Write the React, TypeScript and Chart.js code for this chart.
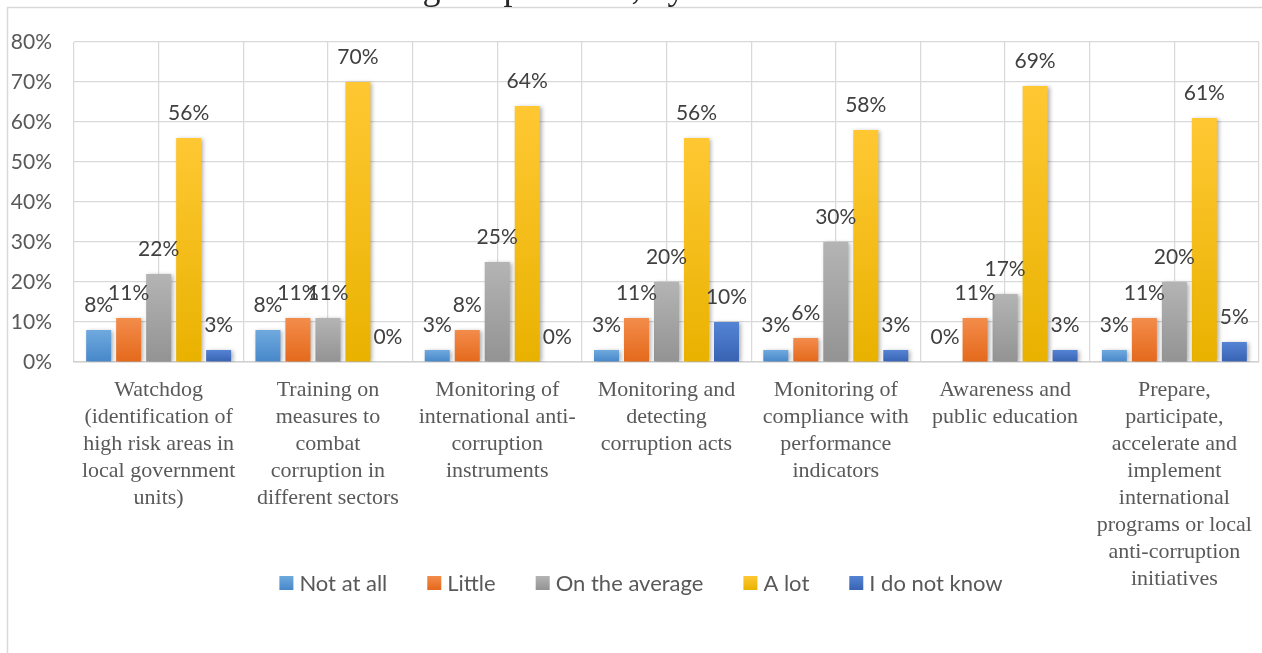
import React, { useEffect, useRef } from "react";
import { Chart, registerables } from "chart.js";

Chart.register(...registerables);

// Activity categories (pre-wrapped into lines)
const categories: string[][] = [
  ["Watchdog", "(identification of", "high risk areas in", "local government", "units)"],
  ["Training on", "measures to", "combat", "corruption in", "different sectors"],
  ["Monitoring of", "international anti-", "corruption", "instruments"],
  ["Monitoring and", "detecting", "corruption acts"],
  ["Monitoring of", "compliance with", "performance", "indicators"],
  ["Awareness and", "public education"],
  [
    "Prepare,",
    "participate,",
    "accelerate and",
    "implement",
    "international",
    "programs or local",
    "anti-corruption",
    "initiatives",
  ],
];

// Share of respondents (%) per answer
const notAtAll = [8, 8, 3, 3, 3, 0, 3];
const little = [11, 11, 8, 11, 6, 11, 11];
const onTheAverage = [22, 11, 25, 20, 30, 17, 20];
const aLot = [56, 70, 64, 56, 58, 69, 61];
const doNotKnow = [3, 0, 0, 10, 3, 3, 5];

const seriesNames = ["Not at all", "Little", "On the average", "A lot", "I do not know"];

const yTicks = [0, 10, 20, 30, 40, 50, 60, 70, 80];

const titleText = "good practices, by local LGU";

// [solid, gradient top, gradient bottom]
const palette: [string, string, string][] = [
  ["#5B9BD5", "#6FA9DE", "#4787C9"],
  ["#ED7D31", "#F38C4B", "#E4691B"],
  ["#A5A5A5", "#B4B4B4", "#939393"],
  ["#FFC000", "#FFC833", "#E9B200"],
  ["#4472C4", "#5584D5", "#3862B2"],
];

const sansFont = 'Lato, "Open Sans", sans-serif';

const barFill = (idx: number) => (ctx: any) => {
  const [solid, top, bottom] = palette[idx];
  const chart = ctx.chart;
  const y = chart.scales && chart.scales.y;
  if (ctx.type !== "data" || !y || !ctx.parsed) return solid;
  const y0 = y.getPixelForValue(0);
  const y1 = y.getPixelForValue(ctx.parsed.y);
  if (!isFinite(y0) || !isFinite(y1) || y0 - y1 < 1) return solid;
  const g = chart.ctx.createLinearGradient(0, y1, 0, y0);
  g.addColorStop(0, top);
  g.addColorStop(1, bottom);
  return g;
};

const barShadow = {
  id: "barShadow",
  beforeDatasetDraw(chart: any) {
    const c = chart.ctx;
    c.save();
    c.shadowColor = "rgba(0,0,0,0.3)";
    c.shadowBlur = 4;
    c.shadowOffsetX = 2;
    c.shadowOffsetY = 1;
  },
  afterDatasetDraw(chart: any) {
    chart.ctx.restore();
  },
};

const valueLabels = {
  id: "valueLabels",
  afterDatasetsDraw(chart: any) {
    const c = chart.ctx;
    c.save();
    c.font = `21px ${sansFont}`;
    c.fillStyle = "#404040";
    c.textAlign = "center";
    c.textBaseline = "middle";
    chart.data.datasets.forEach((ds: any, di: number) => {
      const meta = chart.getDatasetMeta(di);
      meta.data.forEach((bar: any, i: number) => {
        c.fillText(`${ds.data[i]}%`, bar.x, bar.y - 25);
      });
    });
    c.restore();
  },
};

// Legend row under the category labels, centred on the canvas
const bottomLegend = {
  id: "bottomLegend",
  afterDraw(chart: any) {
    const c = chart.ctx;
    c.save();
    c.font = `22px ${sansFont}`;
    c.textBaseline = "middle";
    c.textAlign = "left";
    const box = 14;
    const gapText = 6;
    const gapItem = 40;
    const widths = seriesNames.map((n) => box + gapText + c.measureText(n).width);
    const total = widths.reduce((a, b) => a + b, 0) + gapItem * (widths.length - 1);
    let x = 641 - total / 2;
    const cy = 583;
    seriesNames.forEach((name, i) => {
      const [, top, bottom] = palette[i];
      const g = c.createLinearGradient(0, cy - box / 2, 0, cy + box / 2);
      g.addColorStop(0, top);
      g.addColorStop(1, bottom);
      c.fillStyle = g;
      c.fillRect(x, cy - box / 2, box, box);
      c.fillStyle = "#595959";
      c.fillText(name, x + box + gapText, cy + 1);
      x += widths[i] + gapItem;
    });
    c.restore();
  },
};

const frameAndTitle = {
  id: "frameAndTitle",
  beforeDraw(chart: any) {
    const c = chart.ctx;
    c.save();
    c.fillStyle = "#ffffff";
    c.fillRect(0, 0, chart.width, chart.height);
    c.strokeStyle = "#d9d9d9";
    c.lineWidth = 1.5;
    c.beginPath();
    c.moveTo(7.5, chart.height);
    c.lineTo(7.5, 7.5);
    c.lineTo(chart.width, 7.5);
    c.stroke();
    c.font = '36px "Liberation Serif", serif';
    c.fillStyle = "#262626";
    c.textAlign = "center";
    c.textBaseline = "alphabetic";
    c.fillText(titleText, 635, -1);
    c.restore();
  },
};

export default function App() {
  const canvasRef = useRef<HTMLCanvasElement | null>(null);

  useEffect(() => {
    const canvas = canvasRef.current;
    if (!canvas) return;
    const series = [notAtAll, little, onTheAverage, aLot, doNotKnow];
    const chart = new Chart(canvas, {
      type: "bar",
      data: {
        labels: categories,
        datasets: series.map((values, i) => ({
          label: seriesNames[i],
          data: values,
          backgroundColor: barFill(i),
          borderWidth: 0,
          categoryPercentage: 0.886,
          barPercentage: 0.833,
        })),
      },
      options: {
        responsive: false,
        animation: false,
        devicePixelRatio: 1,
        layout: { padding: { top: 42, left: 0, right: 3, bottom: 0 } },
        plugins: {
          tooltip: { enabled: false },
          title: { display: false },
          legend: { display: false },
        },
        scales: {
          x: {
            type: "category",
            offset: true,
            grid: { offset: true, color: "#d9d9d9", lineWidth: 1.25, drawTicks: false },
            border: { display: true, color: "#d0d0d0", width: 1.5 },
            ticks: {
              autoSkip: false,
              maxRotation: 0,
              minRotation: 0,
              padding: 15,
              color: "#595959",
              font: { family: '"Liberation Serif", serif', size: 22, lineHeight: "27px" },
            },
            afterFit: (s: any) => {
              s.height = 291;
              s.paddingLeft = 0;
              s.paddingRight = 0;
            },
          },
          x2: {
            type: "category",
            position: "bottom",
            offset: true,
            grid: { offset: false, color: "#d9d9d9", lineWidth: 1.25, drawTicks: false },
            border: { display: false },
            ticks: { display: false },
            afterFit: (s: any) => {
              s.height = 0;
              s.paddingLeft = 0;
              s.paddingRight = 0;
            },
          },
          y: {
            min: 0,
            max: 80,
            afterBuildTicks: (s: any) => {
              s.ticks = yTicks.map((v) => ({ value: v }));
            },
            grid: { color: "#d9d9d9", lineWidth: 1.25, drawTicks: false },
            border: { display: false },
            ticks: {
              padding: 22,
              color: "#595959",
              font: { family: sansFont, size: 21 },
              callback: (v: any) => `${v}%`,
            },
            afterFit: (s: any) => {
              s.width = 74;
            },
          },
        },
      },
      plugins: [frameAndTitle, barShadow, valueLabels, bottomLegend],
    });
    return () => chart.destroy();
  }, []);

  return (
    <canvas
      ref={canvasRef}
      width={1262}
      height={653}
      style={{ position: "fixed", left: 0, top: 0, width: 1262, height: 653 }}
    />
  );
}
